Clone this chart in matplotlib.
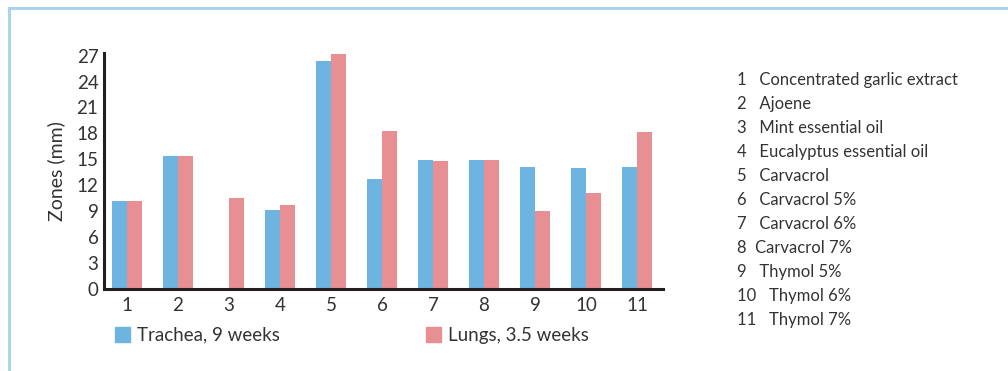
import numpy as np
import matplotlib.pyplot as plt
from matplotlib.patches import Rectangle
from matplotlib.lines import Line2D

plt.rcParams["font.family"] = ["Lato", "DejaVu Sans"]

# ─── Datos ────────────────────────────────────────────────────────────────────
groups = ["1", "2", "3", "4", "5", "6", "7", "8", "9", "10", "11"]
trachea = [10.2, 15.4, 0, 9.1, 26.4, 12.7, 14.9, 14.9, 14.1, 14.0, 14.1]
lungs = [10.2, 15.4, 10.5, 9.7, 27.2, 18.3, 14.8, 14.9, 9.0, 11.1, 18.2]
yticks = [0, 3, 6, 9, 12, 15, 18, 21, 24, 27]
compounds = [
    "1   Concentrated garlic extract",
    "2   Ajoene",
    "3   Mint essential oil",
    "4   Eucalyptus essential oil",
    "5   Carvacrol",
    "6   Carvacrol 5%",
    "7   Carvacrol 6%",
    "8  Carvacrol 7%",
    "9   Thymol 5%",
    "10   Thymol 6%",
    "11   Thymol 7%",
]

BLUE = "#6DB5E0"
PINK = "#E88F94"
TEXT = "#333333"
FRAME = "#A9D3EE"

fig = plt.figure(figsize=(10.08, 3.71), dpi=100)
W, H = 1008, 371

# marco azul claro (arriba e izquierda)
fig.add_artist(Line2D([8.5 / W, 1], [1 - 7.5 / H, 1 - 7.5 / H], color=FRAME, lw=2.2))
fig.add_artist(Line2D([8.5 / W, 8.5 / W], [0, 1 - 7.5 / H], color=FRAME, lw=2.2))

ax = fig.add_axes([104 / W, 1 - 289 / H, (663 - 104) / W, (289 - 53) / H])
x = np.arange(1, len(groups) + 1)
bw = 0.294
ax.bar(x - bw / 2, trachea, width=bw, color=BLUE, zorder=2)
ax.bar(x + bw / 2, lungs, width=bw, color=PINK, zorder=2)

ax.set_xlim(0.55, 11.51)
ax.set_ylim(0, 27.3)
ax.set_yticks(yticks)
ax.set_xticks(x)
ax.set_xticklabels(groups)
ax.tick_params(length=0, labelsize=13.5, colors=TEXT, pad=6)
ax.tick_params(axis="y", pad=4)
for s in ["top", "right"]:
    ax.spines[s].set_visible(False)
for s in ["left", "bottom"]:
    ax.spines[s].set_linewidth(2.2)
    ax.spines[s].set_color("#231F20")
ax.set_ylabel("Zones (mm)", fontsize=14, color=TEXT, labelpad=8)

# leyenda debajo del eje
for xs, col, lab in [(115, BLUE, "Trachea, 9 weeks"), (426, PINK, "Lungs, 3.5 weeks")]:
    fig.add_artist(Rectangle((xs / W, 1 - 342 / H), 15 / W, 15 / H,
                             transform=fig.transFigure, color=col))
    fig.text((xs + 22) / W, 1 - 335 / H, lab, fontsize=13.5, color=TEXT, va="center")

# lista de compuestos
for i, name in enumerate(compounds):
    fig.text(737 / W, 1 - (80 + i * 24) / H, name, fontsize=12, color=TEXT, va="center")

plt.savefig("out.png", dpi=100, facecolor="white")
